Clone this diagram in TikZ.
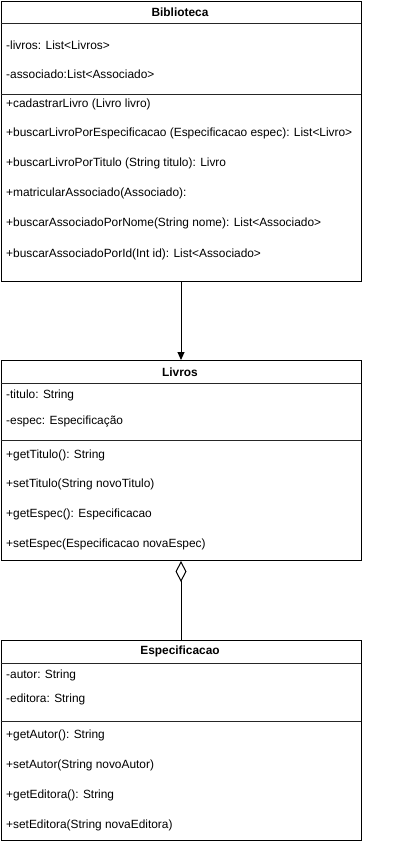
\documentclass[tikz,border=0pt]{standalone}
\usepackage{fontspec}
\setmainfont{Liberation Sans}
\usetikzlibrary{arrows.meta}
\begin{document}
\begin{tikzpicture}[x=1pt,y=-1pt,
  classbox/.style={draw=black, line width=1pt, fill=white, inner sep=0pt, anchor=north west},
  member/.style={anchor=west, inner sep=0pt, font=\fontsize{11.9}{14}\selectfont},
  classtitle/.style={inner sep=0pt, font=\fontsize{11.9}{14}\selectfont\bfseries},
  divider/.style={line width=1pt, draw=black!85}
]
\useasboundingbox (0,0) rectangle (402,841);

% Biblioteca
\node[classbox, minimum width=360pt, minimum height=280pt] (bib) at (0.5,0.5) {};
\node[classtitle] (bibT) at (180,12) {Biblioteca};
\draw[divider] (0.5,23) -- (360.5,23);
\draw[divider] (0.5,94) -- (360.5,94);
\node[member] (b1) at (6,45) {-livros: List<Livros>};
\node[member] (b2) at (6,74) {-associado:List<Associado>};
\node[member] (b3) at (6,104) {+cadastrarLivro (Livro livro)};
\node[member] (b4) at (6,133) {+buscarLivroPorEspecificacao (Especificacao espec): List<Livro>};
\node[member] (b5) at (6,163) {+buscarLivroPorTitulo (String titulo): Livro};
\node[member] (b6) at (6,193) {+matricularAssociado(Associado):};
\node[member] (b7) at (6,223) {+buscarAssociadoPorNome(String nome): List<Associado>};
\node[member] (b8) at (6,254) {+buscarAssociadoPorId(Int id): List<Associado>};

% Livros
\node[classbox, minimum width=360pt, minimum height=200pt] (liv) at (0.5,360) {};
\node[classtitle] (livT) at (180,372) {Livros};
\draw[divider] (0.5,383) -- (360.5,383);
\draw[divider] (0.5,440) -- (360.5,440);
\node[member] (l1) at (6,395) {-titulo: String};
\node[member] (l2) at (6,421) {-espec: Especificação};
\node[member] (l3) at (6,455) {+getTitulo(): String};
\node[member] (l4) at (6,484) {+setTitulo(String novoTitulo)};
\node[member] (l5) at (6,514) {+getEspec(): Especificacao};
\node[member] (l6) at (6,544) {+setEspec(Especificacao novaEspec)};

% Especificacao
\node[classbox, minimum width=360pt, minimum height=200pt] (esp) at (0.5,640) {};
\node[classtitle] (espT) at (180,651) {Especificacao};
\draw[divider] (0.5,663) -- (360.5,663);
\draw[divider] (0.5,721) -- (360.5,721);
\node[member] (e1) at (6,675) {-autor: String};
\node[member] (e2) at (6,699) {-editora: String};
\node[member] (e3) at (6,735) {+getAutor(): String};
\node[member] (e4) at (6,765) {+setAutor(String novoAutor)};
\node[member] (e5) at (6,795) {+getEditora(): String};
\node[member] (e6) at (6,825) {+setEditora(String novaEditora)};

% Associations
\draw[line width=1pt, -{Triangle[length=8pt,width=7pt]}] (bib.south) -- (liv.north);
\draw[line width=1pt, {Diamond[open,length=21pt,width=11pt]}-] (liv.south) -- (esp.north);
\end{tikzpicture}
\end{document}
